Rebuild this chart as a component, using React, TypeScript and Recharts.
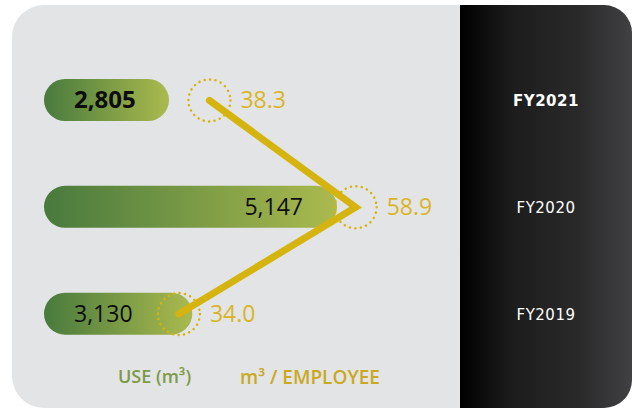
import { ComposedChart, Bar, Line, XAxis, YAxis, LabelList } from 'recharts';

const years = ['FY2021', 'FY2020', 'FY2019'];
const useM3 = [2805, 5147, 3130];
const perEmployee = [38.3, 58.9, 34.0];
const currentYear = 'FY2021';

const data = years.map((year, i) => ({ year, use: useM3[i], perEmp: perEmployee[i] }));

const GOLD = '#d6b40f';
const GOLD_TEXT = '#d9b526';
const NUM_FONT = '"Open Sans", sans-serif';

const FyTick = (props: any) => {
  const { x, y, payload, width } = props;
  const bold = payload.value === currentYear;
  return (
    <text
      x={x + (width ?? 172) / 2}
      y={y}
      dy={5.5}
      textAnchor="middle"
      fill="#ffffff"
      fontFamily='"DejaVu Sans", sans-serif'
      fontSize={15}
      fontWeight={bold ? 700 : 400}
      letterSpacing={0.5}
    >
      {payload.value}
    </text>
  );
};

const UseLabel = (props: any) => {
  const { x, y, width, height, value } = props;
  const longest = value === Math.max(...useM3);
  const bold = value === useM3[years.indexOf(currentYear)];
  return (
    <text
      x={longest ? x + width - 34 : x + 30}
      y={y + height / 2 + 8}
      textAnchor={longest ? 'end' : 'start'}
      fill="#0d0d0d"
      fontFamily={NUM_FONT}
      fontSize={bold ? 24 : 23}
      fontWeight={bold ? 700 : 400}
    >
      {Number(value).toLocaleString('en-US')}
    </text>
  );
};

const EmpLabel = (props: any) => {
  const { x, y, value } = props;
  return (
    <text x={x + 31} y={y + 8} fill={GOLD_TEXT} fontFamily={NUM_FONT} fontSize={23}>
      {Number(value).toFixed(1)}
    </text>
  );
};

const RingDot = (props: any) => {
  const { cx, cy, index } = props;
  return (
    <circle
      key={`ring-${index}`}
      cx={cx}
      cy={cy}
      r={21}
      fill="none"
      stroke={GOLD}
      strokeWidth={2.5}
      strokeDasharray="0.1 5.4"
      strokeLinecap="round"
    />
  );
};

export default function App() {
  return (
    <div style={{ position: 'absolute', left: 0, top: 0, width: 632, height: 409, background: '#fff' }}>
      <div
        style={{
          position: 'absolute', left: 12, top: 5, width: 619, height: 403,
          borderRadius: 32, background: '#e3e4e6',
        }}
      />
      <div
        style={{
          position: 'absolute', left: 460, top: 5, width: 172, height: 403,
          borderRadius: '0 28px 28px 0',
          background: 'linear-gradient(to right, #000000, #1c1c1c 30%, #2a2a2b 70%, #414143)',
        }}
      />
      <div style={{ position: 'absolute', left: 0, top: 0 }}>
        <ComposedChart
          width={632}
          height={409}
          data={data}
          layout="vertical"
          margin={{ top: 47, right: 0, bottom: 41.5, left: 44 }}
        >
          <defs>
            <linearGradient id="useGrad" x1="0" y1="0" x2="1" y2="0">
              <stop offset="0%" stopColor="#487a3d" />
              <stop offset="100%" stopColor="#abba4e" />
            </linearGradient>
          </defs>
          <XAxis xAxisId="use" type="number" domain={[1062, 6862]} hide />
          <XAxis xAxisId="emp" type="number" domain={[15.0, 73.6]} hide />
          <YAxis
            type="category"
            dataKey="year"
            orientation="right"
            width={172}
            axisLine={false}
            tickLine={false}
            tickSize={0}
            tickMargin={0}
            tick={<FyTick />}
          />
          <Bar
            xAxisId="use"
            dataKey="use"
            barSize={42}
            radius={21}
            fill="url(#useGrad)"
            isAnimationActive={false}
          >
            <LabelList dataKey="use" content={<UseLabel />} />
          </Bar>
          <Line
            xAxisId="emp"
            dataKey="perEmp"
            type="linear"
            stroke={GOLD}
            strokeWidth={7}
            strokeLinecap="round"
            strokeLinejoin="miter"
            dot={RingDot}
            activeDot={false}
            isAnimationActive={false}
          >
            <LabelList dataKey="perEmp" content={<EmpLabel />} />
          </Line>
        </ComposedChart>
      </div>
      <div
        style={{
          position: 'absolute', left: 118, top: 364, fontFamily: NUM_FONT,
          fontSize: 18, fontWeight: 600, color: '#7d9a47', whiteSpace: 'nowrap',
        }}
      >
        USE (m³)
      </div>
      <div
        style={{
          position: 'absolute', left: 240, top: 364, fontFamily: NUM_FONT,
          fontSize: 19, fontWeight: 600, color: '#c9a920', whiteSpace: 'nowrap',
        }}
      >
        m³ / EMPLOYEE
      </div>
    </div>
  );
}
